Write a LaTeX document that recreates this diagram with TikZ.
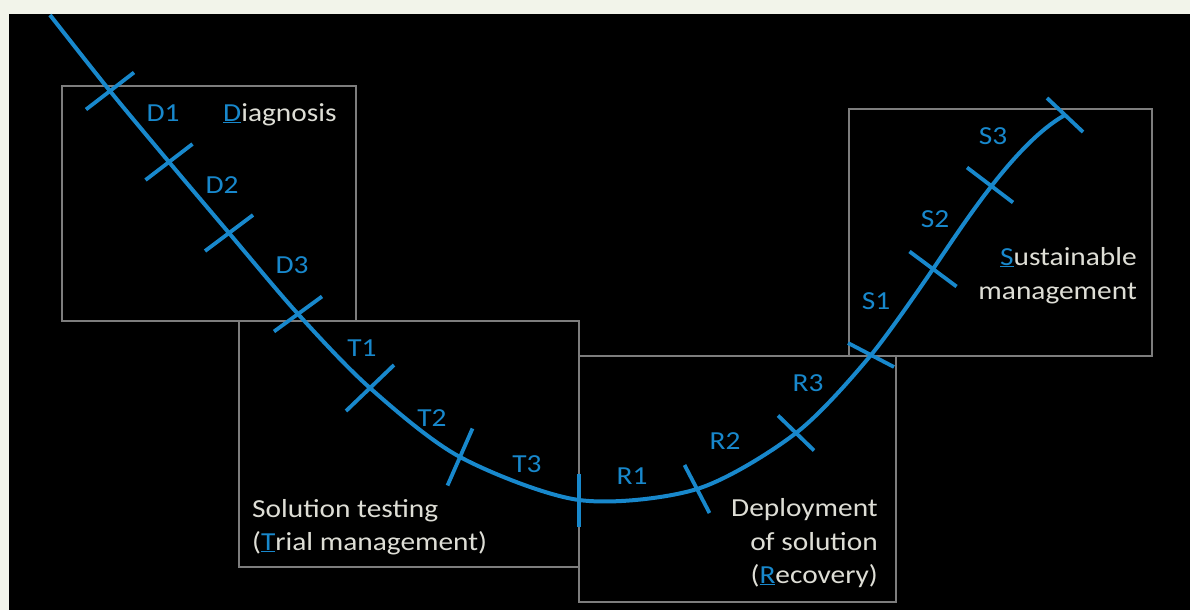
\documentclass[tikz,border=0pt]{standalone}
\usepackage{fontspec}
\setmainfont{Carlito}[FakeStretch=1.13]
\definecolor{cream}{RGB}{242,244,234}
\definecolor{curveblue}{RGB}{24,136,204}
\definecolor{boxgray}{RGB}{125,125,125}
\definecolor{txtgray}{RGB}{222,222,214}
\newcommand\keyletter[1]{{\color{curveblue}\underline{#1}}}
\begin{document}
\begin{tikzpicture}[x=1pt,y=-1pt,
  phasebox/.style={draw=boxgray,line width=1.3pt},
  curve/.style={draw=curveblue,line width=4pt},
  tickmark/.style={draw=curveblue,line width=3.8pt},
  lbl/.style={text=curveblue,font=\fontsize{26}{33}\selectfont,inner sep=0pt,anchor=base},
  phase/.style={text=txtgray,font=\fontsize{26}{33}\selectfont,inner sep=0pt}]
\fill[cream] (0,0) rectangle (1190,610);
\fill[black] (9,14) rectangle (1190,610);
\useasboundingbox (0,0) rectangle (1190,610);

% phase boxes
\draw[phasebox] (62,86) rectangle (356,321);
\draw[phasebox] (239,321) rectangle (579,567);
\draw[phasebox] (579,356) rectangle (896,602);
\draw[phasebox] (849,109) rectangle (1152,356);

% points on the curve
\coordinate (p0) at (50,15);
\coordinate (p1) at (110,91);
\coordinate (p2) at (169,162);
\coordinate (p3) at (229,233);
\coordinate (p4) at (298,314);
\coordinate (p5) at (370,388);
\coordinate (p6) at (460,457);
\coordinate (p7) at (579,500);
\coordinate (p8) at (697,489);
\coordinate (p9) at (796,433);
\coordinate (p10) at (871,355);
\coordinate (p11) at (933,269);
\coordinate (p12) at (990,185);
\coordinate (c1) at (963,225);
\coordinate (c2) at (1015,143);
\coordinate (p13) at (1065,115);

\draw[curve] plot[smooth,tension=0.5] coordinates {(p0) (p1) (p2) (p3) (p4) (p5) (p6) (p7) (p8) (p9) (p10) (p11)}
  .. controls (c1) and (c2) .. (p13);

% ticks
\draw[tickmark] (p1) ++(-24,18.5) -- ++(48,-37);
\draw[tickmark] (p2) ++(-23.5,18) -- ++(47,-36);
\draw[tickmark] (p3) ++(-24,18) -- ++(48,-36);
\draw[tickmark] (p4) ++(-24,17.5) -- ++(48,-35);
\draw[tickmark] (p5) ++(-24,23) -- ++(48,-46);
\draw[tickmark] (p6) ++(-12.5,28.5) -- ++(25,-57);
\draw[tickmark] (p7) ++(0,26.5) -- ++(0,-53);
\draw[tickmark] (p8) ++(-12.5,-24) -- ++(25,48);
\draw[tickmark] (p9) ++(-18,-17.5) -- ++(36,35);
\draw[tickmark] (p10) ++(-23,-12) -- ++(46,24);
\draw[tickmark] (p11) ++(-23.5,-17.5) -- ++(47,35);
\draw[tickmark] (p12) ++(-23,-17.5) -- ++(46,35);
\draw[tickmark] (p13) ++(-18,-17) -- ++(36,34);

% step labels
\node[lbl] (d1) at (163,121) {D1};
\node[lbl] (d2) at (222,193) {D2};
\node[lbl] (d3) at (292,273) {D3};
\node[lbl] (t1) at (362,356) {T1};
\node[lbl] (t2) at (432,426) {T2};
\node[lbl] (t3) at (527,472) {T3};
\node[lbl] (r1) at (632,484) {R1};
\node[lbl] (r2) at (725,449) {R2};
\node[lbl] (r3) at (808,391) {R3};
\node[lbl] (s1) at (876,309) {S1};
\node[lbl] (s2) at (935,227) {S2};
\node[lbl] (s3) at (993,144) {S3};

% phase names
\node[phase,anchor=base west] (diag) at (223,121) {\keyletter{D}iagnosis};
\node[phase,anchor=base west] (sol1) at (252,517) {Solution testing};
\node[phase,anchor=base west] (sol2) at (252,550) {(\keyletter{T}rial management)};
\node[phase,anchor=base east] (dep1) at (878,516) {Deployment};
\node[phase,anchor=base east] (dep2) at (878,550) {of solution};
\node[phase,anchor=base east] (dep3) at (878,583) {(\keyletter{R}ecovery)};
\node[phase,anchor=base east] (sus1) at (1137,265) {\keyletter{S}ustainable};
\node[phase,anchor=base east] (sus2) at (1137,299) {management};
\end{tikzpicture}
\end{document}
